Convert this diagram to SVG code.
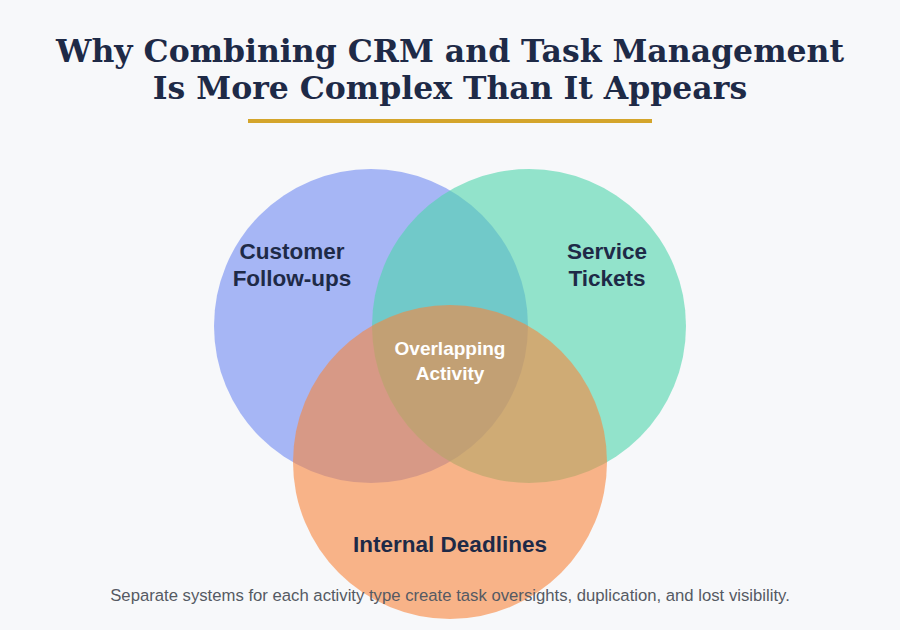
<svg xmlns="http://www.w3.org/2000/svg" width="900" height="630" viewBox="0 0 900 630">
<style>
.title{font-family:"DejaVu Serif",serif;font-weight:bold;font-size:31.5px;fill:#1e2a47;text-anchor:middle}
.lbl{font-family:"Liberation Sans",Arial,sans-serif;font-weight:bold;font-size:22.5px;fill:#1e2a47;text-anchor:middle}
.ctr{font-family:"Liberation Sans",Arial,sans-serif;font-weight:bold;font-size:19px;fill:#ffffff;text-anchor:middle}
.foot{font-family:"Liberation Sans",Arial,sans-serif;font-size:16.7px;fill:#555a63;text-anchor:middle}
.c{opacity:0.6}
</style>
<rect width="900" height="630" fill="#f7f8fa"/>
<text class="title" x="450" y="62">Why Combining CRM and Task Management</text>
<text class="title" x="450" y="99">Is More Complex Than It Appears</text>
<rect x="248" y="119" width="404" height="4" fill="#d4a52b"/>
<g id="customer-follow-ups">
<circle class="c" cx="371" cy="326" r="157" fill="#708af2"/>
</g>
<g id="service-tickets">
<circle class="c" cx="529" cy="326" r="157" fill="#4fd5ac"/>
</g>
<g id="internal-deadlines">
<circle class="c" cx="450" cy="462" r="157" fill="#f9853c"/>
</g>
<g id="labels">
<text class="lbl" x="292" y="259">Customer</text>
<text class="lbl" x="292" y="286">Follow-ups</text>
<text class="lbl" x="607" y="259">Service</text>
<text class="lbl" x="607" y="286">Tickets</text>
<text class="lbl" x="450" y="552">Internal Deadlines</text>
</g>
<g id="overlapping-activity">
<text class="ctr" x="450" y="355">Overlapping</text>
<text class="ctr" x="450" y="380">Activity</text>
</g>
<g id="connectors"/>
<text class="foot" x="450" y="601">Separate systems for each activity type create task oversights, duplication, and lost visibility.</text>
</svg>
